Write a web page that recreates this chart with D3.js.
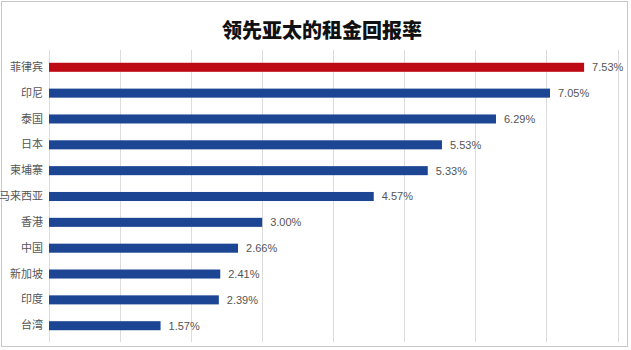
<!DOCTYPE html>
<html>
<head>
<meta charset="utf-8">
<script src="https://cdn.jsdelivr.net/npm/d3@7/dist/d3.min.js"></script>
<style>
  html, body { margin: 0; padding: 0; background: #fff; }
  svg { display: block; }
</style>
</head>
<body>
<svg id="chart" width="631" height="350"></svg>
<script>
// Rental yields across Asia-Pacific markets (%)
const categories = ["菲律宾", "印尼", "泰国", "日本", "柬埔寨", "马来西亚", "香港", "中国", "新加坡", "印度", "台湾"];
const yields = [7.53, 7.05, 6.29, 5.53, 5.33, 4.57, 3.00, 2.66, 2.41, 2.39, 1.57];
const gridTicks = [0, 1, 2, 3, 4, 5, 6, 7, 8];
const titleText = "领先亚太的租金回报率";

const svg = d3.select("#chart");
const W = 631, H = 350;

// outer frame
svg.append("rect")
  .attr("x", 1.5).attr("y", 1.5)
  .attr("width", 626).attr("height", 345)
  .attr("fill", "#fff")
  .attr("stroke", "#c8c8c8")
  .attr("stroke-width", 1);

svg.append("text")
  .attr("x", 322).attr("y", 38)
  .attr("text-anchor", "middle")
  .attr("font-family", "'Noto Sans CJK SC', sans-serif")
  .attr("font-weight", 900)
  .attr("font-size", 20)
  .attr("fill", "#111")
  .text(titleText);

const x = d3.scaleLinear().domain([0, 8]).range([49, 617.5]);
const y = d3.scaleBand().domain(categories).range([54.5, 338.5]).paddingInner(0.65).paddingOuter(0.32);

// vertical gridlines
svg.append("g")
  .selectAll("line")
  .data(gridTicks)
  .join("line")
  .attr("x1", d => Math.round(x(d)) + 0.5)
  .attr("x2", d => Math.round(x(d)) + 0.5)
  .attr("y1", 50).attr("y2", 342)
  .attr("stroke", "#dcdcdc")
  .attr("stroke-width", 1);

// category axis labels
const yAxis = d3.axisLeft(y).tickSize(0).tickPadding(6);
const gy = svg.append("g")
  .attr("transform", `translate(${x(0)},0)`)
  .call(yAxis);
gy.select(".domain").remove();
gy.selectAll("text")
  .attr("font-family", "'Noto Sans CJK SC', sans-serif")
  .attr("font-size", 11)
  .attr("fill", "#555");

// bars
svg.append("g")
  .selectAll("rect")
  .data(categories)
  .join("rect")
  .attr("x", x(0))
  .attr("y", d => y(d))
  .attr("width", (d, i) => x(yields[i]) - x(0))
  .attr("height", y.bandwidth())
  .attr("fill", (d, i) => i === 0 ? "#BE0A14" : "#1C4594");

// value labels
svg.append("g")
  .selectAll("text")
  .data(categories)
  .join("text")
  .attr("x", (d, i) => x(yields[i]) + 8)
  .attr("y", d => y(d) + y.bandwidth() / 2)
  .attr("dy", "0.35em")
  .attr("font-family", "'Liberation Sans', Arial, sans-serif")
  .attr("font-size", 11)
  .attr("fill", "#555")
  .text((d, i) => yields[i].toFixed(2) + "%");
</script>
</body>
</html>
